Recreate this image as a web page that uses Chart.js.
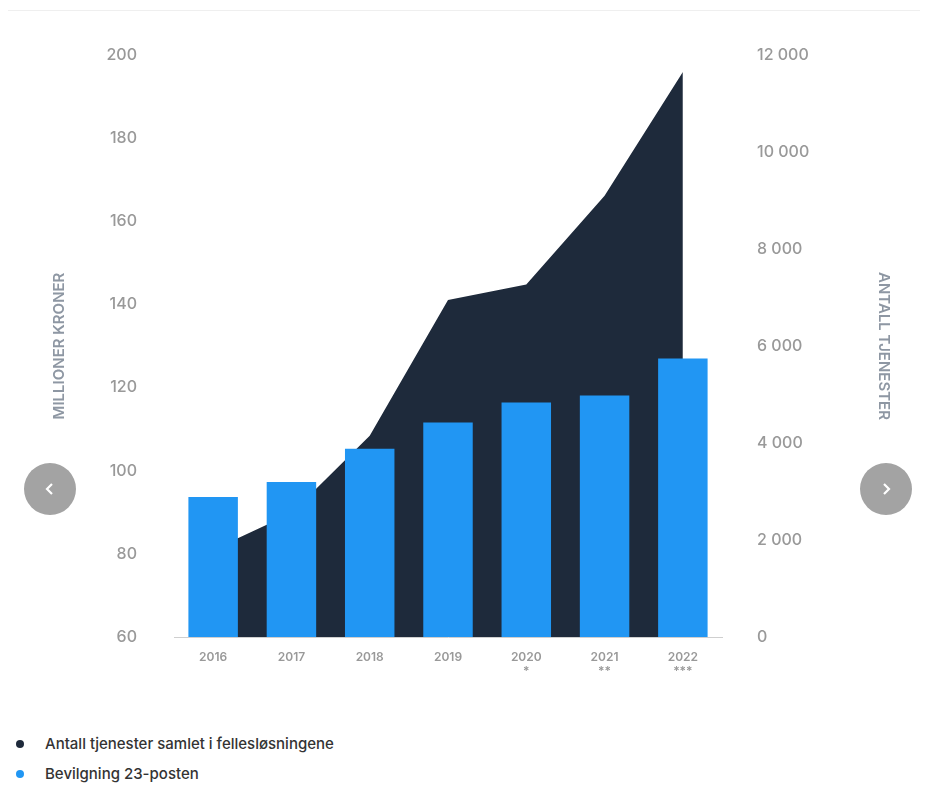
<!DOCTYPE html>
<html>
<head>
<meta charset="utf-8">
<script src="https://cdn.jsdelivr.net/npm/chart.js@4.4.0/dist/chart.umd.min.js"></script>
<style>
  body { margin: 0; background: #fff; font-family: Inter, "Noto Sans", sans-serif; }
  #wrap { position: relative; width: 931px; height: 795px; }
  #topline { position: absolute; left: 8px; top: 10px; width: 912px; height: 1px; background: #efefef; }
  #box { position: absolute; left: 0; top: 0; width: 931px; height: 700px; }
  .nav { position: absolute; top: 463px; width: 52px; height: 52px; border-radius: 50%; background: #a3a3a3; }
  .nav svg { position: absolute; left: 16px; top: 16px; }
  #legend { position: absolute; left: 16px; top: 732px; font-size: 15px; font-weight: 500; color: #333; }
  #legend div { height: 30px; line-height: 24px; }
  #legend span.dot { display: inline-block; width: 8px; height: 8px; border-radius: 50%; margin-right: 21px; vertical-align: 1px; }
</style>
</head>
<body>
<div id="wrap">
  <div id="topline"></div>
  <div id="box"><canvas id="chart"></canvas></div>
  <div class="nav" style="left:24px"><svg width="20" height="20"><polyline points="12,5 7,10 12,15" fill="none" stroke="#fff" stroke-width="2.2"/></svg></div>
  <div class="nav" style="left:860px"><svg width="20" height="20"><polyline points="8,5 13,10 8,15" fill="none" stroke="#fff" stroke-width="2.2"/></svg></div>
  <div id="legend"></div>
</div>
<script>
var years = [['2016'], ['2017'], ['2018'], ['2019'], ['2020', '*'], ['2021', '**'], ['2022', '***']];
var tjenester = [1800, 2550, 4150, 6950, 7270, 9100, 11650];
var bevilgning = [93.7, 97.3, 105.3, 111.6, 116.4, 118.1, 127];
var leftTicks = [60, 80, 100, 120, 140, 160, 180, 200];
var rightTicks = [0, 2000, 4000, 6000, 8000, 10000, 12000];
var seriesNames = ['Antall tjenester samlet i fellesløsningene', 'Bevilgning 23-posten'];
var colors = ['#1e2a3b', '#2196f3'];

document.addEventListener("DOMContentLoaded", function() {
  var tickColor = '#999999';
  var titleColor = '#8e97a3';

  var ctx = document.getElementById('chart').getContext('2d');
  new Chart(ctx, {
    data: {
      labels: years,
      datasets: [
        {
          type: 'line', label: seriesNames[0], data: tjenester, yAxisID: 'y1', order: 2,
          backgroundColor: colors[0], borderWidth: 0, pointRadius: 0, fill: 'origin', tension: 0
        },
        {
          type: 'bar', label: seriesNames[1], data: bevilgning, yAxisID: 'y', order: 1,
          backgroundColor: colors[1], categoryPercentage: 0.8, barPercentage: 0.79
        }
      ]
    },
    options: {
      responsive: true,
      maintainAspectRatio: false,
      animation: false,
      layout: { padding: { top: 55 } },
      plugins: {
        legend: { display: false },
        tooltip: { enabled: false }
      },
      scales: {
        x: {
          grid: { display: false, drawTicks: false },
          border: { color: '#cfcfcf' },
          ticks: { color: tickColor, font: { family: 'Inter', size: 12, weight: '600' }, padding: 13, maxRotation: 0 },
          afterFit: function(s) { s.height = 63; }
        },
        y: {
          position: 'left', min: 60, max: 200,
          afterBuildTicks: function(s) { s.ticks = leftTicks.map(function(v) { return { value: v }; }); },
          grid: { display: false, drawTicks: false },
          border: { display: false },
          ticks: { color: tickColor, font: { family: 'Inter', size: 16, weight: '500' }, padding: 37 },
          title: { display: true, text: 'MILLIONER KRONER', color: titleColor, font: { family: 'Inter', size: 15, weight: '600' }, padding: { top: 50, bottom: 0 } },
          afterFit: function(s) { s.width = 174; }
        },
        y1: {
          position: 'right', min: 0, max: 12000,
          afterBuildTicks: function(s) { s.ticks = rightTicks.map(function(v) { return { value: v }; }); },
          grid: { display: false, drawTicks: false },
          border: { display: false },
          ticks: {
            color: tickColor, font: { family: 'Inter', size: 16, weight: '500' }, padding: 35,
            callback: function(v) { return String(v).replace(/\B(?=(\d{3})+(?!\d))/g, ' '); }
          },
          title: { display: true, text: 'ANTALL TJENESTER', color: titleColor, font: { family: 'Inter', size: 15, weight: '600' }, padding: { top: 38, bottom: 0 } },
          afterFit: function(s) { s.width = 209; }
        }
      }
    }
  });

  var legend = document.getElementById('legend');
  seriesNames.forEach(function(name, i) {
    var row = document.createElement('div');
    row.innerHTML = '<span class="dot" style="background:' + colors[i] + '"></span>' + name;
    legend.appendChild(row);
  });
});
</script>
</body>
</html>
